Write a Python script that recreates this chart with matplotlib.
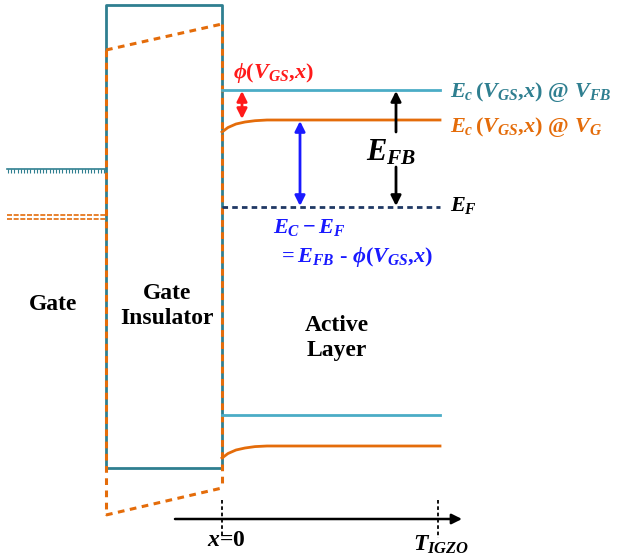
import numpy as np
import matplotlib
matplotlib.use("Agg")
import matplotlib.pyplot as plt

plt.rcParams['mathtext.fontset'] = 'custom'
plt.rcParams['mathtext.rm'] = 'Liberation Serif:bold'
plt.rcParams['mathtext.it'] = 'Liberation Serif:bold:italic'
plt.rcParams['mathtext.bf'] = 'Liberation Serif:bold'

TEAL_DARK = '#2f7f90'
TEAL = '#4bacc6'
ORANGE = '#e46c0a'
NAVY = '#1f3864'
RED = '#ff1a1a'
BLUE = '#1a1aff'

# band levels (pixel units, y grows downward)
x_ins = [106, 222]          # insulator left / right edge
x_end = 440                 # end of active layer
ins_top, ins_bot = 5, 468   # insulator box (flat band)
ins_dash_top = [50, 24]     # tilted insulator top under bias
ins_dash_bot = [515, 488]   # tilted insulator bottom under bias
gate_fb, gate_g = 169, 217  # gate Fermi level, flat band / biased
ec_fb = 90
ef = 207
vb_fb = 415
# bent conduction / valence bands
bend_x = [222, 228, 236, 245, 255, 267, 440]
ec_g = [132, 127.5, 124, 122, 120.7, 120, 120]
ev_g = [458, 453.5, 450, 448, 446.6, 446, 446]

fig = plt.figure(figsize=(6.23, 5.6), dpi=100)
ax = fig.add_axes([0, 0, 1, 1])
ax.set_xlim(0, 623)
ax.set_ylim(560, 0)
ax.axis('off')

# gate insulator box
ax.plot([x_ins[0], x_ins[0], x_ins[1], x_ins[1], x_ins[0]],
        [ins_bot, ins_top, ins_top, ins_bot, ins_bot], color=TEAL_DARK, lw=2)
# tilted insulator (biased)
dash = dict(color=ORANGE, lw=2.2, ls=(0, (2.2, 1.8)))
ax.plot(x_ins, ins_dash_top, **dash)
ax.plot(x_ins, ins_dash_bot, **dash)
ax.plot([x_ins[0], x_ins[0]], [ins_dash_top[0], ins_dash_bot[0]], **dash)
ax.plot([x_ins[1], x_ins[1]], [ins_dash_top[1], ins_dash_bot[1]], **dash)

# gate metal levels
ax.plot([7, x_ins[0]], [gate_fb, gate_fb], color=TEAL_DARK, lw=1.2)
ticks = np.arange(8, x_ins[0], 3.2)
ax.vlines(ticks, gate_fb, gate_fb + 4, color=TEAL_DARK, lw=0.8)
ax.plot([7, x_ins[0]], [gate_g - 2, gate_g - 2], color=ORANGE, lw=1.2, ls=(0, (3, 1)))
ax.plot([7, x_ins[0]], [gate_g + 2, gate_g + 2], color=ORANGE, lw=1.2, ls=(0, (3, 1)))

# active layer bands
ax.plot([x_ins[1], x_end], [ec_fb, ec_fb], color=TEAL, lw=2)
ax.plot([x_ins[1], x_end], [vb_fb, vb_fb], color=TEAL, lw=2)
ax.plot(bend_x, ec_g, color=ORANGE, lw=2)
ax.plot(bend_x, ev_g, color=ORANGE, lw=2)
ax.plot([x_ins[1], x_end], [ef, ef], color=NAVY, lw=2, ls=(0, (2, 1.5)))

# arrows
def arrow(x0, y0, x1, y1, style, color, lw=2):
    ax.annotate('', xy=(x1, y1), xytext=(x0, y0),
                arrowprops=dict(arrowstyle=style, color=color, lw=lw,
                                mutation_scale=15, shrinkA=0, shrinkB=0))

arrow(242, 119, 242, ec_fb + 1, '<|-|>', RED)
arrow(300, ef - 1, 300, 121, '<|-|>', BLUE)
arrow(396, 132, 396, ec_fb + 1, '-|>', 'black')
arrow(396, 167, 396, ef - 1, '-|>', 'black')

# x axis
arrow(175, 519, 462, 519, '-|>', 'black', lw=1.8)
ax.plot([222, 222], [500, 538], color='black', lw=1.3, ls=(0, (2, 1.5)))
ax.plot([438, 438], [500, 538], color='black', lw=1.3, ls=(0, (2, 1.5)))

# labels
ax.text(233, 73, r'$\phi(V_{GS}{,}x)$', color=RED, fontsize=16, va='center')
ax.text(450, 92, r'$E_c\,(V_{GS}{,}x)\ @\ V_{FB}$', color=TEAL_DARK, fontsize=16, va='center')
ax.text(450, 127, r'$E_c\,(V_{GS}{,}x)\ @\ V_G$', color=ORANGE, fontsize=16, va='center')
ax.text(450, 206, r'$E_F$', color='black', fontsize=16, va='center')
ax.text(366, 152, r'$E_{FB}$', color='black', fontsize=22, va='center')
ax.text(273, 227, r'$E_C - E_F$', color=BLUE, fontsize=16, va='center')
ax.text(278, 257, r'$= E_{FB}$ - $\phi(V_{GS}{,}x)$', color=BLUE, fontsize=16,
        va='center', fontfamily='Liberation Serif', fontweight='bold')
ax.text(53, 304, 'Gate', fontsize=17, fontweight='bold', fontfamily='Liberation Serif',
        ha='center', va='center')
ax.text(167, 306, 'Gate\nInsulator', fontsize=17, fontweight='bold',
        fontfamily='Liberation Serif', ha='center', va='center', linespacing=1.25)
ax.text(337, 338, 'Active\nLayer', fontsize=17, fontweight='bold',
        fontfamily='Liberation Serif', ha='center', va='center', linespacing=1.25)
ax.text(226, 541, r'$x$=0', fontsize=17, ha='center', va='center',
        fontfamily='Liberation Serif', fontweight='bold')
ax.text(441, 544, r'$T_{IGZO}$', fontsize=17, ha='center', va='center')

fig.savefig('out.png', dpi=100)
